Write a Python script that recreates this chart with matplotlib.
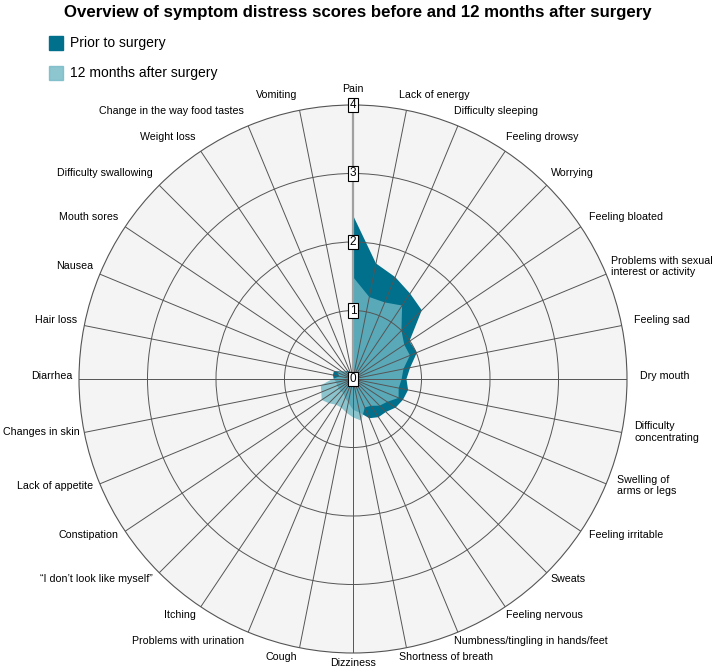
import numpy as np
import matplotlib
matplotlib.use("Agg")
import matplotlib.pyplot as plt
from matplotlib.patches import Rectangle

plt.rcParams['font.family'] = ['Liberation Sans', 'DejaVu Sans']

categories = [
    "Pain", "Lack of energy", "Difficulty sleeping", "Feeling drowsy", "Worrying",
    "Feeling bloated", "Problems with sexual\ninterest or activity", "Feeling sad",
    "Dry mouth", "Difficulty\nconcentrating", "Swelling of\narms or legs",
    "Feeling irritable", "Sweats", "Feeling nervous",
    "Numbness/tingling in hands/feet", "Shortness of breath", "Dizziness", "Cough",
    "Problems with urination", "Itching", "\u201cI don\u2019t look like myself\u201d",
    "Constipation", "Lack of appetite", "Changes in skin", "Diarrhea", "Hair loss",
    "Nausea", "Mouth sores", "Difficulty swallowing", "Weight loss",
    "Change in the way food tastes", "Vomiting",
]

prior = [2.39, 1.72, 1.61, 1.50, 1.42, 0.99, 1.01, 0.85, 0.78, 0.82, 0.79, 0.75,
         0.68, 0.67, 0.62, 0.50, 0.45, 0.35, 0.30, 0.25, 0.25, 0.25, 0.25, 0.25,
         0.28, 0.30, 0.30, 0.20, 0.15, 0.15, 0.12, 0.08]
after = [1.49, 1.22, 1.21, 1.29, 1.00, 0.90, 0.90, 0.75, 0.71, 0.68, 0.72, 0.60,
         0.55, 0.47, 0.45, 0.62, 0.56, 0.50, 0.45, 0.45, 0.50, 0.55, 0.50, 0.48,
         0.30, 0.20, 0.25, 0.20, 0.15, 0.12, 0.10, 0.08]
series_names = ["Prior to surgery", "12 months after surgery"]
radial_ticks = [0, 1, 2, 3, 4]
title = "Overview of symptom distress scores before and 12 months after surgery"

W, H = 717, 670
fig = plt.figure(figsize=(W / 100, H / 100), dpi=100)

cx, cy, R = 353, 379, 274
ax = fig.add_axes([(cx - R) / W, (H - cy - R) / H, 2 * R / W, 2 * R / H], projection='polar')
ax.set_theta_zero_location('N')
ax.set_theta_direction(-1)
ax.set_facecolor('#f4f4f4')

n = len(categories)
theta = np.arange(n) * 2 * np.pi / n

dark = '#00708c'
light = '#72b8c5'

tc = np.append(theta, theta[0])
ax.fill(tc, np.append(prior, prior[0]), color=dark, lw=0, zorder=1)
ax.fill(tc, np.append(after, after[0]), color=light, alpha=0.8, lw=0, zorder=2)

ax.set_ylim(0, 4)
ax.set_xticks(theta)
ax.set_xticklabels([])
ax.set_yticks([1, 2, 3])
ax.set_yticklabels([])
ax.grid(True, color='#555555', lw=0.7, zorder=3)
ax.set_axisbelow(False)
ax.spines['polar'].set_color('#555555')
ax.spines['polar'].set_linewidth(0.8)
ax.plot([0, 0], [0, 4], color='#a0a0a0', lw=1.6, zorder=4)

for r in radial_ticks:
    ax.text(0, r, str(r), ha='center', va='center', fontsize=8.5, zorder=6,
            bbox=dict(boxstyle='square,pad=0.12', fc='white', ec='black', lw=0.8))

pt = 0.72  # points per pixel at 100 dpi
d = 13
labels = []
for t, lab in zip(theta, categories):
    s, c = np.sin(t), np.cos(t)
    dx = d * s
    dy = d * c + 3
    if abs(s) < 0.05:
        ha = 'center'
    elif s > 0:
        ha = 'left'
        dx += -10 * c * c
    else:
        ha = 'right'
        dx += 6 * s * s
    a = ax.annotate(lab, xy=(t, 4), xycoords='data', xytext=(dx * pt, dy * pt),
                    textcoords='offset points', ha=ha, va='center', fontsize=7.7,
                    linespacing=1.15, zorder=6, annotation_clip=False)
    labels.append((a, dx, dy))

fig.text(358 / W, 1 - 12 / H, title, ha='center', va='center', fontsize=12.1,
         fontweight='bold')

for i, (name, col, al) in enumerate(zip(series_names, [dark, light], [1.0, 0.8])):
    yc = 42.5 + 30.5 * i
    fig.patches.append(Rectangle((48.5 / W, 1 - (yc + 7) / H), 14 / W, 14 / H,
                                 transform=fig.transFigure, color=col, alpha=al))
    fig.text(70 / W, 1 - yc / H, name, ha='left', va='center', fontsize=10)

# keep labels inside the figure
fig.canvas.draw()
renderer = fig.canvas.get_renderer()
for a, dx, dy in labels:
    bb = a.get_window_extent(renderer)
    shift = 0
    if bb.x1 > W - 4:
        shift = (W - 4) - bb.x1
    elif bb.x0 < 3:
        shift = 3 - bb.x0
    if shift:
        a.set_position(((dx + shift) * pt, dy * pt))

fig.savefig('out.png', dpi=100)
